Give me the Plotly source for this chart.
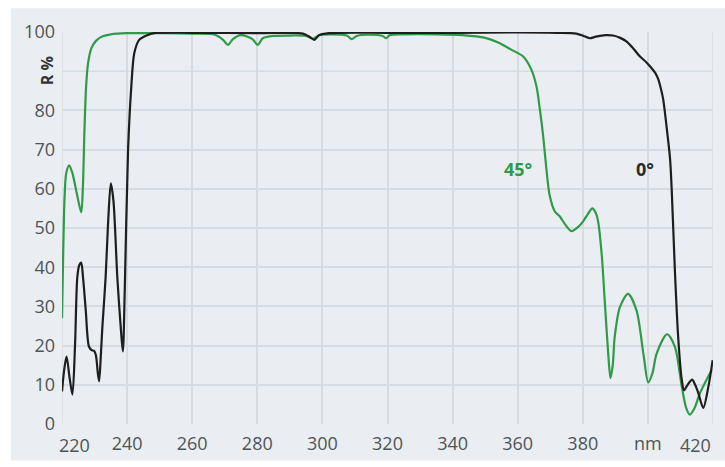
import plotly.graph_objects as go

# Reflectance spectra of the mirror coating at two angles of incidence
green_nm = [220, 220.4, 220.8, 221.3, 222.2, 223.2, 224.5, 225.9, 226.4, 226.9, 227.4, 228.0,
            229.0, 230.5, 232.5, 235, 240, 250, 260, 267, 269.5, 271.0, 272.5, 275, 278.5,
            280.1, 281.7, 285, 290, 295, 297.2, 299, 303, 307.5, 309.0, 310.5, 314, 318.5,
            319.6, 320.7, 325, 335, 343, 350, 354, 358, 361.6, 364.2, 365.8, 366.8, 367.8,
            368.8, 369.8, 371.4, 372.9, 374.5, 376.5, 378.5, 380.1, 381.5, 382.9, 384.0,
            384.7, 385.8, 386.8, 387.8, 388.5, 389.2, 389.8, 391.4, 393.9, 396.5, 398.6,
            400.1, 401.4, 402.7, 405.9, 408.3, 410.4, 411.8, 412.9, 414.3, 416, 419.6]
green_r = [27, 45, 58, 64, 66, 64, 59, 54, 60, 75, 86, 92,
           95.8, 97.8, 98.9, 99.4, 99.7, 99.7, 99.6, 99.3, 98, 96.7, 98.2, 99.2, 98.2,
           96.7, 98.4, 99.0, 99.1, 99.0, 98.3, 99.2, 99.4, 99.1, 98.2, 99.0, 99.3, 99.0,
           98.4, 99.2, 99.4, 99.4, 99.2, 98.5, 97.3, 95.5, 93.8, 90.4, 86, 80.3, 73.6,
           65.2, 58.4, 54.2, 53, 51, 49.2, 50.2, 51.7, 53.5, 55, 53.8,
           51.7, 43.3, 30.6, 18, 11.7, 15, 22.2, 29.8, 33.2, 29, 18,
           10.6, 13, 18, 22.9, 19.7, 9.6, 4, 2.4, 4, 7.9, 13.8]

black_nm = [220, 220.7, 221.4, 222.3, 223.2, 224.0, 224.7, 225.3, 225.9, 226.5, 227.3, 228.3,
            229.2, 229.8, 230.4, 231.0, 231.4, 231.9, 232.4, 233.4, 234.2, 235, 235.8, 237,
            238.1, 238.7, 239.3, 240.3, 241.3, 242.2, 243.7, 246.2, 248.3, 260, 280, 294,
            296, 297.5, 299, 302, 320, 340, 360, 372, 378, 380.5, 382.2, 384, 387, 389.3,
            391.5, 393.4, 395.5, 397.5, 399.5, 401.1, 402.3, 403.2, 404.0, 404.7, 405.7,
            406.8, 407.3, 408.3, 409.3, 410.4, 411.1, 412.2, 413.6, 414.5, 415.5, 417.0,
            418.6, 419.9]
black_r = [8.3, 14, 17.2, 12, 7.5, 20, 37.4, 40.5, 41.2, 37, 29, 19.7,
           18.8, 18.7, 17.6, 13, 10.9, 17, 24.7, 37.4, 52, 61.4, 57, 37.4,
           24, 18.5, 35, 70, 86.2, 94.6, 98, 99.2, 99.7, 99.8, 99.7, 99.6,
           98.8, 98, 99.2, 99.7, 99.8, 99.8, 99.9, 99.8, 99.6, 98.9, 98.4, 98.8, 99.2, 99.1,
           98.5, 97.6, 95.8, 93.8, 92.3, 90.8, 89.5, 87.9, 85.5, 82.8, 76.1,
           67.7, 60.1, 39, 22.2, 11.3, 8.6, 10, 11.3, 10, 7.9, 4.1,
           9.6, 16.3]

x_ticks = [240, 260, 280, 300, 320, 340, 360, 380, 400]
x_labels = ["240", "260", "280", "300", "320", "340", "360", "380", "nm"]
y_ticks = [0, 10, 20, 30, 40, 50, 60, 70, 80, 100]
y_labels = ["0", "10", "20", "30", "40", "50", "60", "70", "80", "100"]

GREEN = "#2f9a47"
BLACK = "#1e1e1e"
PANEL = "#eaeef2"
GRID = "#d4dbe2"
TICK = "#4f5457"
FONT = "Open Sans"

fig = go.Figure()
fig.add_trace(go.Scatter(x=green_nm, y=green_r, mode="lines",
                         line=dict(color=GREEN, width=2.2, shape="spline", smoothing=0.8),
                         hoverinfo="skip", showlegend=False))
fig.add_trace(go.Scatter(x=black_nm, y=black_r, mode="lines",
                         line=dict(color=BLACK, width=2.2, shape="spline", smoothing=0.8),
                         hoverinfo="skip", showlegend=False))

# Panel behind the chart
fig.add_shape(type="rect", xref="paper", yref="paper",
              x0=-0.0783, x1=1.02, y0=-0.0934, y1=1.0606,
              fillcolor=PANEL, line=dict(width=0), layer="below")

annotations = [
    dict(x=360, y=65, xref="x", yref="y", text="<b>45°</b>", showarrow=False,
         font=dict(family=FONT, size=18, color=GREEN)),
    dict(x=399, y=65, xref="x", yref="y", text="<b>0°</b>", showarrow=False,
         font=dict(family=FONT, size=18, color="#2a2a2a")),
    dict(x=-0.023, y=90, xref="paper", yref="y", text="<b>R %</b>", showarrow=False,
         xanchor="center", yanchor="middle",
         textangle=-90, font=dict(family=FONT, size=16, color="#333")),
    dict(x=220, y=0, xref="x", yref="y", text="220", showarrow=False,
         xanchor="left", yanchor="top", xshift=-5, yshift=-7,
         font=dict(family=FONT, size=18, color=TICK)),
    dict(x=420, y=0, xref="x", yref="y", text="420", showarrow=False,
         xanchor="right", yanchor="top", xshift=0, yshift=-7,
         font=dict(family=FONT, size=18, color=TICK)),
]

fig.update_layout(
    width=725, height=467,
    margin=dict(l=62, r=12, t=32, b=39),
    paper_bgcolor="white",
    plot_bgcolor="rgba(0,0,0,0)",
    font=dict(family=FONT, size=18, color=TICK),
    annotations=annotations,
    xaxis=dict(range=[220, 420], tickvals=x_ticks, ticktext=x_labels,
               showgrid=True, gridcolor=GRID, gridwidth=1.5,
               zeroline=False, showline=False, ticks="", ticklabelstandoff=7,
               fixedrange=True),
    yaxis=dict(range=[0, 100], tickvals=y_ticks, ticktext=y_labels,
               showgrid=True, gridcolor=GRID, gridwidth=1.5,
               zeroline=False, showline=False, ticks="", ticklabelstandoff=6,
               fixedrange=True),
)
# extra grid lines at the range ends
for xv in [220, 420]:
    fig.add_shape(type="line", xref="x", yref="paper", x0=xv, x1=xv, y0=0, y1=1,
                  line=dict(color=GRID, width=1.5), layer="below")
fig.add_shape(type="line", xref="paper", yref="y", x0=0, x1=1, y0=90, y1=90,
              line=dict(color=GRID, width=1.5), layer="below")

fig.write_html("out.html")
